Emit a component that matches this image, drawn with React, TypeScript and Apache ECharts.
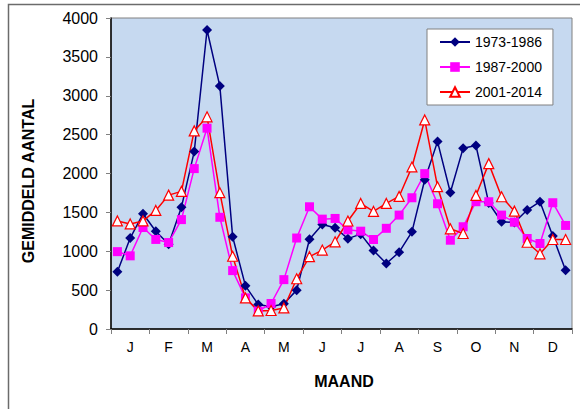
import React, { useEffect, useRef } from "react";
import * as echarts from "echarts";

const months = ["J", "F", "M", "A", "M", "J", "J", "A", "S", "O", "N", "D"];
const decades = ["1", "2", "3"];
const categories = months.flatMap((m, mi) => decades.map((d) => `${m}|${mi + 1}|${d}`));

const seriesNames = ["1973-1986", "1987-2000", "2001-2014"];

const values1973 = [
  735, 1170, 1482, 1258, 1090, 1567,
  2282, 3846, 3124, 1186, 555, 314,
  285, 326, 500, 1155, 1345, 1302,
  1162, 1220, 1010, 842, 988, 1250,
  1920, 2410, 1755, 2326, 2360, 1620,
  1380, 1370, 1530, 1638, 1195, 755,
];
const values1987 = [
  995, 941, 1305, 1152, 1112, 1407,
  2063, 2583, 1437, 751, 400, 230,
  328, 635, 1170, 1572, 1413, 1422,
  1275, 1258, 1151, 1295, 1465, 1688,
  1998, 1611, 1142, 1315, 1637, 1637,
  1465, 1374, 1164, 1100, 1624, 1332,
];
const values2001 = [
  1390, 1351, 1390, 1525, 1722, 1770,
  2548, 2729, 1753, 936, 400, 232,
  238, 271, 646, 930, 1015, 1121,
  1389, 1615, 1512, 1615, 1705, 2084,
  2689, 1830, 1289, 1228, 1718, 2127,
  1701, 1516, 1116, 967, 1151, 1151,
];

const yMin = 0;
const yMax = 4000;
const yStep = 500;

const FONT = 'Arial, "Liberation Sans", sans-serif';

export default function App() {
  const ref = useRef<HTMLDivElement>(null);
  useEffect(() => {
    const chart = echarts.init(ref.current!, null, { renderer: "svg" });
    chart.setOption({
      animation: false,
      backgroundColor: "#ffffff",
      grid: {
        left: 111,
        right: 8,
        top: 18,
        bottom: 80,
        show: true,
        backgroundColor: "#C6D9F0",
        borderColor: "#808080",
        borderWidth: 1,
      },
      legend: {
        orient: "vertical",
        left: 427,
        top: 29,
        padding: [6, 11, 6, 12],
        itemGap: 11,
        itemWidth: 30,
        itemHeight: 12,
        backgroundColor: "#ffffff",
        borderColor: "#808080",
        borderWidth: 1,
        textStyle: { fontSize: 14, color: "#000", fontFamily: FONT, lineHeight: 14 },
        data: seriesNames,
      },
      xAxis: {
        type: "category",
        data: categories,
        boundaryGap: true,
        axisLine: { show: true, lineStyle: { color: "#000", width: 1.5 } },
        axisTick: {
          show: true,
          length: 5,
          interval: (i: number) => i % 3 === 0,
          lineStyle: { color: "#808080" },
        },
        axisLabel: {
          interval: (i: number) => i % 3 === 1,
          formatter: (v: string) => v.split("|")[0],
          fontSize: 14,
          color: "#000",
          fontFamily: FONT,
          margin: 11,
        },
        splitLine: { show: false },
      },
      yAxis: {
        type: "value",
        min: yMin,
        max: yMax,
        interval: yStep,
        axisLine: { show: true, lineStyle: { color: "#000", width: 1.5 } },
        axisTick: { show: true, length: 5, lineStyle: { color: "#808080" } },
        axisLabel: {
          fontSize: 16,
          color: "#000",
          fontFamily: FONT,
          margin: 13,
          formatter: (v: number) => String(v),
        },
        splitLine: { show: false },
      },
      series: [
        {
          name: seriesNames[0],
          type: "line",
          data: values1973,
          symbol: "diamond",
          symbolSize: 10,
          showAllSymbol: true,
          lineStyle: { color: "#000080", width: 1.5 },
          itemStyle: { color: "#000080" },
          emphasis: { disabled: true },
        },
        {
          name: seriesNames[1],
          type: "line",
          data: values1987,
          symbol: "rect",
          symbolSize: 9,
          showAllSymbol: true,
          lineStyle: { color: "#FF00FF", width: 1.5 },
          itemStyle: { color: "#FF00FF" },
          emphasis: { disabled: true },
        },
        {
          name: seriesNames[2],
          type: "line",
          data: values2001,
          symbol: "triangle",
          symbolSize: 10,
          showAllSymbol: true,
          lineStyle: { color: "#FF0000", width: 1.5 },
          itemStyle: { color: "#FFFFFF", borderColor: "#FF0000", borderWidth: 1.2 },
          emphasis: { disabled: true },
        },
      ],
      graphic: [
        {
          type: "rect",
          silent: true,
          z: -10,
          shape: { x: 8.5, y: 4.5, width: 700, height: 700 },
          style: { fill: "none", stroke: "#6b6b6b", lineWidth: 1.5 },
        },
        {
          type: "text",
          x: 28,
          y: 181,
          rotation: Math.PI / 2,
          style: {
            text: "GEMIDDELD AANTAL",
            fontSize: 16,
            fontWeight: "bold",
            fontFamily: FONT,
            fill: "#000",
            align: "center",
            verticalAlign: "middle",
          },
        },
        {
          type: "text",
          x: 344,
          y: 381,
          style: {
            text: "MAAND",
            fontSize: 16,
            fontWeight: "bold",
            fontFamily: FONT,
            fill: "#000",
            align: "center",
            verticalAlign: "middle",
          },
        },
      ],
    });
    return () => chart.dispose();
  }, []);
  return (
    <div
      ref={ref}
      style={{ position: "absolute", left: 0, top: 0, width: 580, height: 409 }}
    />
  );
}
